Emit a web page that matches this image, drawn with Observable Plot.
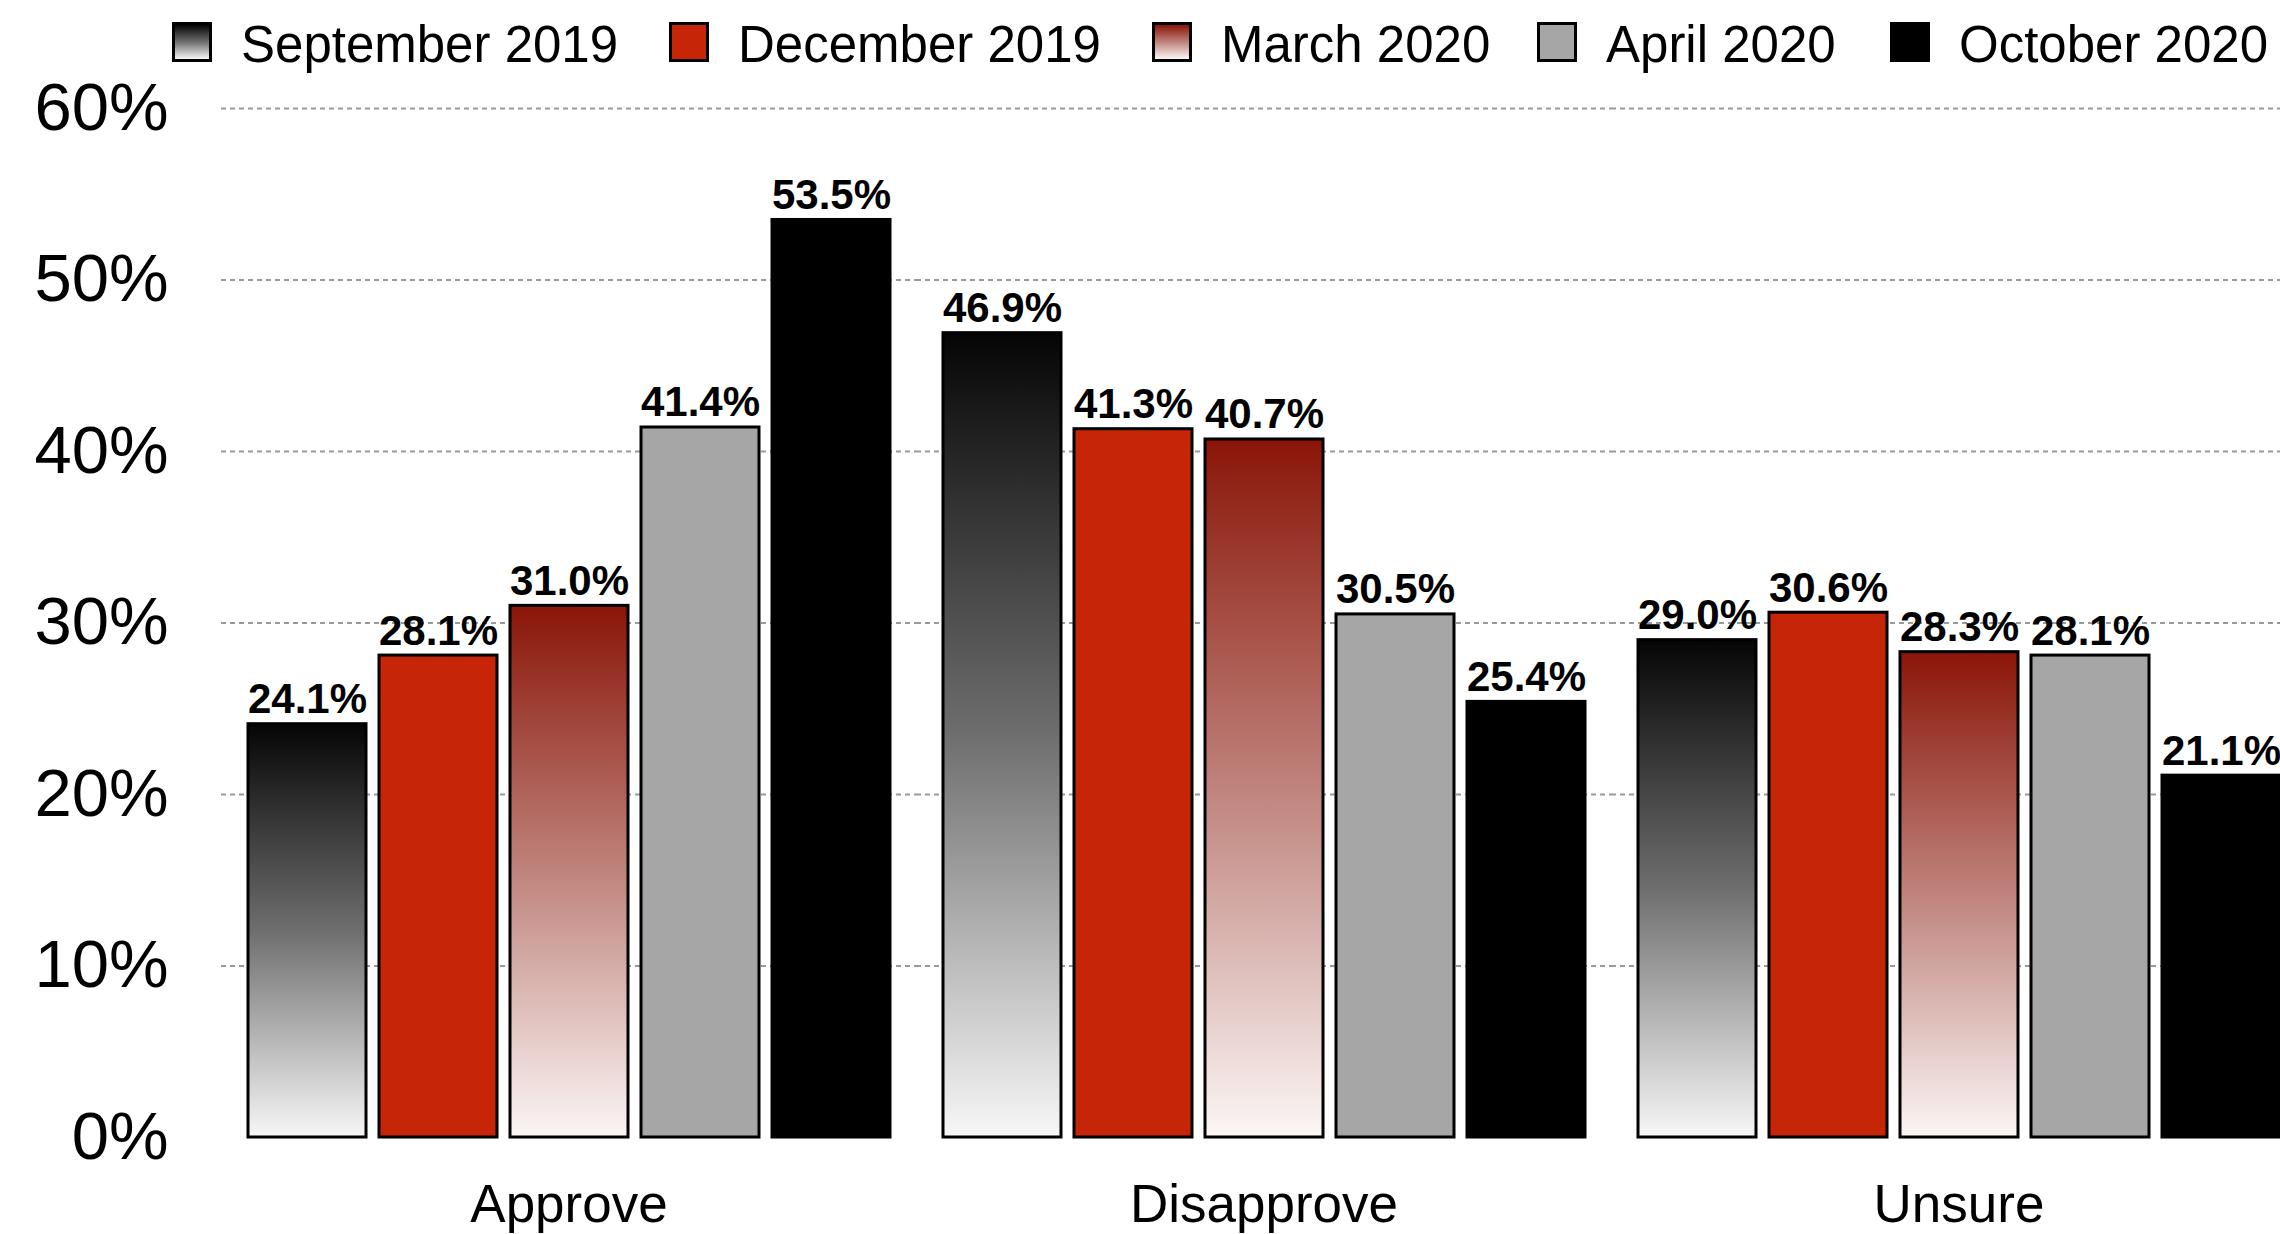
<!DOCTYPE html>
<html>
<head>
<meta charset="utf-8">
<script src="https://cdn.jsdelivr.net/npm/d3@7"></script>
<script src="https://cdn.jsdelivr.net/npm/@observablehq/plot@0.6"></script>
<style>
  html, body { margin: 0; padding: 0; background: #fff; overflow: hidden; width: 2280px; height: 1234px; }
  body { font-family: "Liberation Sans", Arial, Helvetica, sans-serif; }
  #legend { position: relative; height: 80px; }
  .item { position: absolute; top: 22px; display: flex; align-items: center; height: 40px; }
  .sw { width: 34px; height: 34px; border: 3px solid #000; box-sizing: content-box; }
  .lbl { font-size: 51px; color: #000; margin-left: 29px; position: relative; top: 2px; white-space: nowrap; }
  #chart svg { max-width: none !important; display: block; overflow: visible; }
  #chart [aria-label^="y-axis"] text { font-size: 67px !important; fill: #000; }
  #chart [aria-label^="fx-axis"] text { font-size: 53px !important; fill: #000; }
</style>
</head>
<body>
<div id="legend"></div>
<div id="chart"></div>
<script>
// ---- data ----
const categories = ["Approve", "Disapprove", "Unsure"];
const waves = ["September 2019", "December 2019", "March 2020", "April 2020", "October 2020"];
const sept2019 = [24.1, 46.9, 29.0];
const dec2019  = [28.1, 41.3, 30.6];
const mar2020  = [31.0, 40.7, 28.3];
const apr2020  = [41.4, 30.5, 28.1];
const oct2020  = [53.5, 25.4, 21.1];
const yTicks = [0, 10, 20, 30, 40, 50, 60];
const gridTicks = [10, 20, 30, 40, 50, 60];

// ---- styles ----
const fills = ["url(#gSep)", "#c62508", "url(#gMar)", "#a6a6a6", "#000000"];
const legendBg = [
  "linear-gradient(to bottom, #050505, #6e6e6e, #f7f7f7)",
  "#c62508",
  "linear-gradient(to bottom, #8a1508, #bf837c, #fbf6f5)",
  "#a6a6a6",
  "#000000"
];
const legendX = [172, 669, 1152, 1537, 1890];

const series = [sept2019, dec2019, mar2020, apr2020, oct2020];
const rows = [];
categories.forEach((c, ci) => {
  waves.forEach((w, wi) => rows.push({category: c, wave: w, value: series[wi][ci]}));
});

// legend
const legend = document.getElementById("legend");
waves.forEach((w, i) => {
  const it = document.createElement("div");
  it.className = "item";
  it.style.left = legendX[i] + "px";
  const sw = document.createElement("div");
  sw.className = "sw";
  sw.style.background = legendBg[i];
  const lb = document.createElement("span");
  lb.className = "lbl";
  lb.textContent = w;
  it.appendChild(sw);
  it.appendChild(lb);
  legend.appendChild(it);
});

const chart = Plot.plot({
  width: 2306,
  height: 1154,
  marginTop: 28,
  marginBottom: 97,
  marginLeft: 220,
  marginRight: 0,
  style: {fontFamily: "Liberation Sans, Arial, Helvetica, sans-serif", color: "#000", background: "#fff"},
  facet: {data: rows, x: "category"},
  fx: {domain: categories, padding: 0, paddingInner: 0, paddingOuter: 0, axis: "bottom", label: null, tickSize: 0, tickPadding: 47},
  x: {domain: waves, axis: null, paddingInner: 0.1, paddingOuter: 0.192},
  y: {domain: [0, 60], ticks: yTicks, tickFormat: d => d + "%", tickSize: 0, tickPadding: 53, label: null},
  color: {domain: waves, range: fills},
  marks: [
    Plot.ruleY(gridTicks, {stroke: "#9a9a9a", strokeWidth: 2, strokeDasharray: "5,4"}),
    Plot.barY(rows, {x: "wave", y: "value", fill: "wave", stroke: "#000", strokeWidth: 3}),
    Plot.text(rows, {x: "wave", y: "value", text: d => d.value.toFixed(1) + "%", lineAnchor: "bottom", dy: -11,
      fontSize: 42, fontWeight: "bold", fill: "#000"})
  ]
});

const svg = chart.tagName.toLowerCase() === "svg" ? chart : chart.querySelector("svg");
const defs = d3.select(svg).insert("defs", ":first-child");
const g1 = defs.append("linearGradient").attr("id", "gSep").attr("x1", 0).attr("y1", 0).attr("x2", 0).attr("y2", 1);
g1.append("stop").attr("offset", "0").attr("stop-color", "#050505");
g1.append("stop").attr("offset", "0.5").attr("stop-color", "#6e6e6e");
g1.append("stop").attr("offset", "1").attr("stop-color", "#f7f7f7");
const g2 = defs.append("linearGradient").attr("id", "gMar").attr("x1", 0).attr("y1", 0).attr("x2", 0).attr("y2", 1);
g2.append("stop").attr("offset", "0").attr("stop-color", "#8a1508");
g2.append("stop").attr("offset", "0.5").attr("stop-color", "#bf837c");
g2.append("stop").attr("offset", "1").attr("stop-color", "#fbf6f5");

document.getElementById("chart").appendChild(chart);
</script>
</body>
</html>
